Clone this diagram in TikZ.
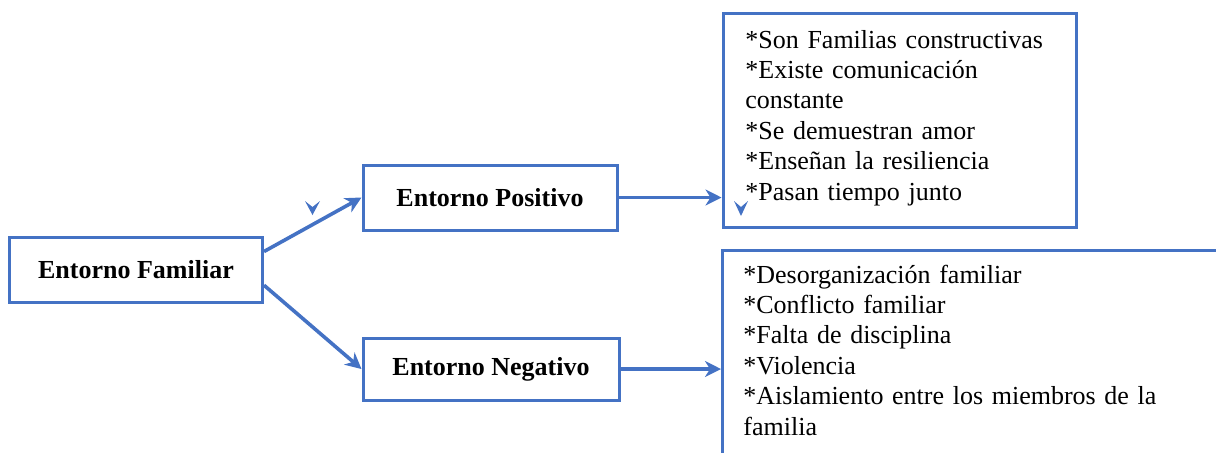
\documentclass[tikz,border=0pt]{standalone}
\usepackage{fontspec}
\setmainfont{Liberation Serif}
\usetikzlibrary{arrows.meta}
\definecolor{boxblue}{HTML}{4472C4}
\begin{document}
\begin{tikzpicture}[x=0.5pt, y=-0.5pt,
  font=\fontsize{13}{15.2}\selectfont,
  labelbox/.style={draw=boxblue, line width=1.5pt, inner sep=0pt, font=\fontsize{13}{15.2}\selectfont\bfseries},
  listbox/.style={draw=boxblue, line width=1.5pt, inner sep=0pt},
  listtext/.style={align=left, inner sep=0pt, anchor=base west},
  link/.style={draw=boxblue, line width=1.8pt, -{Stealth[length=8pt, width=8pt, inset=2.5pt]}}]
  \useasboundingbox (0,0) rectangle (1216,452);
  \clip (0,0) rectangle (1216,452);

  \node[labelbox, minimum width=126.5pt, minimum height=32.5pt] (fam) at (136,269.5) {Entorno Familiar};
  \node[labelbox, minimum width=127pt, minimum height=32.5pt] (pos) at (490,197.5) {Entorno Positivo};
  \node[labelbox, minimum width=128pt, minimum height=31pt] (neg) at (491,369) {Entorno Negativo};

  \node[listbox, minimum width=176.5pt, minimum height=107pt] (poslist) at (899.5,120) {};
  \node[listbox, minimum width=260pt, minimum height=115pt, anchor=north west] (neglist) at (721,249) {};

  \node[listtext, text width=170pt] (postext) at (745,48) {*Son Familias constructivas\\
    {*}Existe comunicación\\ constante\\
    {*}Se demuestran amor\\
    {*}Enseñan la resiliencia\\
    {*}Pasan tiempo junto};
  \node[listtext, text width=240pt] (negtext) at (743,283) {*Desorganización familiar\\
    {*}Conflicto familiar\\
    {*}Falta de disciplina\\
    {*}Violencia\\
    {*}Aislamiento entre los miembros de la\\ familia};

  \draw[link] (fam.8) -- (pos.west);
  \draw[link] (fam.-7.5) -- (neg.west);
  \draw[link] (pos.east) -- (pos.east -| poslist.west);
  \draw[link] (neg.east) -- (neg.east -| neglist.west);

  % loose arrow tips
  \fill[boxblue] (312.5,215) -- (305,201) -- (312.5,207) -- (320,201) -- cycle;
  \fill[boxblue] (741,216) -- (734,201) -- (741,207) -- (748,201) -- cycle;
\end{tikzpicture}
\end{document}
